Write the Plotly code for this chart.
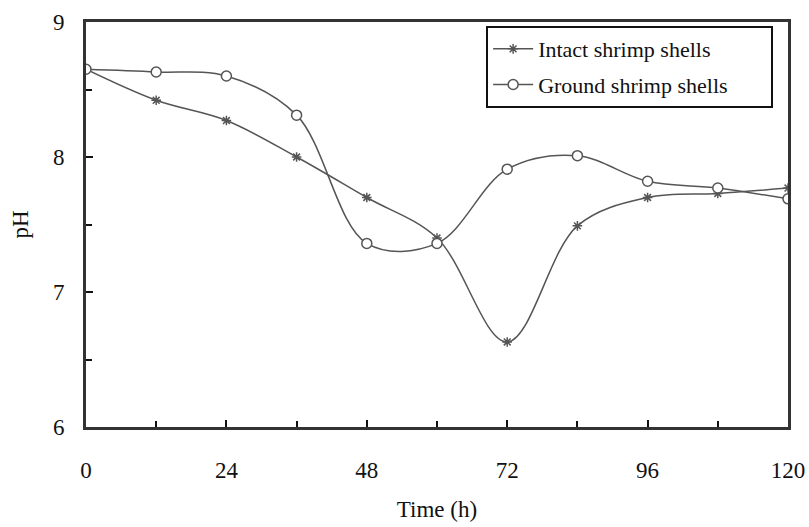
import plotly.graph_objects as go

time_h = [0, 12, 24, 36, 48, 60, 72, 84, 96, 108, 120]
ph_intact = [8.65, 8.42, 8.27, 8.00, 7.70, 7.40, 6.63, 7.49, 7.70, 7.73, 7.77]
ph_ground = [8.65, 8.63, 8.60, 8.31, 7.36, 7.36, 7.91, 8.01, 7.82, 7.77, 7.69]
x_ticks = [0, 24, 48, 72, 96, 120]
y_ticks = [6, 7, 8, 9]

LINE = "#555555"
FONT = "Liberation Serif"
PAD = "&nbsp;" * 10

fig = go.Figure()
fig.add_trace(go.Scatter(
    x=time_h, y=ph_intact, mode="lines+markers", name="Intact shrimp shells" + PAD,
    line=dict(color=LINE, width=1.5, shape="spline", smoothing=1.0),
    marker=dict(symbol="asterisk-open", size=8, color=LINE, line=dict(color=LINE, width=1.5)),
    legendgroup="a",
))
fig.add_trace(go.Scatter(
    x=time_h, y=ph_ground, mode="lines+markers", name="Ground shrimp shells",
    line=dict(color=LINE, width=1.5, shape="spline", smoothing=1.0),
    marker=dict(symbol="circle", size=10, color="white", line=dict(color=LINE, width=1.5)),
    legendgroup="b",
))

axis_common = dict(
    showline=True, linewidth=3, linecolor="#333333", mirror=True,
    showgrid=False, zeroline=False, ticks="inside", tickcolor="#111111",
    tickwidth=2, ticklen=7, automargin=False, ticklabeloverflow="allow",
    tickfont=dict(family=FONT, size=23, color="#111111"),
)

fig.update_xaxes(
    range=[0, 120], tickvals=x_ticks, ticktext=[str(v) for v in x_ticks],
    minor=dict(dtick=12, tick0=0, ticks="inside", ticklen=6, tickwidth=2, tickcolor="#111111"),
    ticklabelstandoff=20,
    title=dict(text="Time (h)", font=dict(family=FONT, size=23, color="#111111"), standoff=20),
    **axis_common,
)
fig.update_yaxes(
    range=[6, 9], tickvals=y_ticks, ticktext=[str(v) for v in y_ticks],
    minor=dict(dtick=0.5, tick0=6, ticks="inside", ticklen=6, tickwidth=2, tickcolor="#111111"),
    ticklabelstandoff=14,
    title=dict(text="pH", font=dict(family=FONT, size=23, color="#111111"), standoff=18),
    **axis_common,
)

fig.update_layout(
    width=809, height=527,
    margin=dict(l=86, r=21, t=22, b=100),
    plot_bgcolor="white", paper_bgcolor="white",
    font=dict(family=FONT, color="#111111"),
    legend=dict(
        x=0.57, y=0.99, xanchor="left", yanchor="top",
        bordercolor="#111111", borderwidth=2, bgcolor="white",
        font=dict(family=FONT, size=22, color="#111111"),
        tracegroupgap=4, itemwidth=40,
    ),
    showlegend=True,
)

fig.write_html(
    "out.html",
    config={"displayModeBar": False},
    post_script="document.body.style.margin='0';document.body.style.overflow='hidden';",
)
